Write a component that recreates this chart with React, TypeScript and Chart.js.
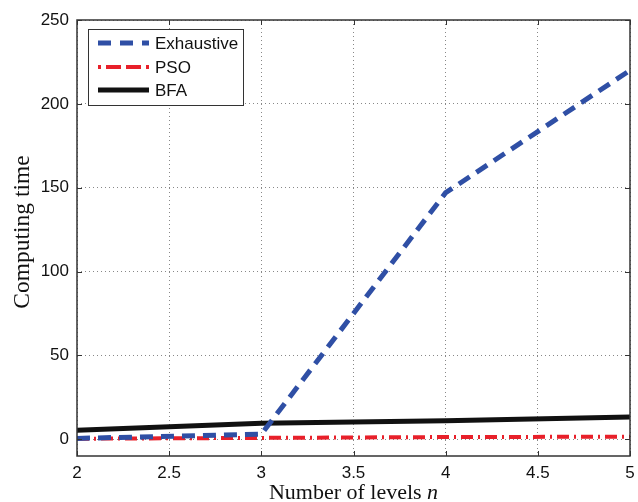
import React, { useEffect, useRef } from 'react';
import { Chart, registerables } from 'chart.js';

Chart.register(...registerables);

const N_LEVELS = [2, 3, 4, 5];
const EXHAUSTIVE = [0.5, 3, 147, 220];
const PSO = [0.3, 0.8, 1.3, 1.5];
const BFA = [5.4, 9.6, 11, 13.3];
const X_TICKS = [2, 2.5, 3, 3.5, 4, 4.5, 5];
const Y_TICKS = [0, 50, 100, 150, 200, 250];
const SERIES_LABELS = ['Exhaustive', 'PSO', 'BFA'];
const X_TITLE = 'Number of levels ';
const X_TITLE_VAR = 'n';
const Y_TITLE = 'Computing time';

const SANS = '"Liberation Sans", Arial, sans-serif';
const SERIF = '"Liberation Serif", "DejaVu Serif", serif';

const decorPlugin = {
  id: 'decor',
  afterDraw(chart: any) {
    const { ctx, chartArea } = chart;
    const { left, right, top, bottom } = chartArea;
    const xs = chart.scales.x;
    const ys = chart.scales.y;
    ctx.save();
    // frame
    ctx.strokeStyle = '#333';
    ctx.lineWidth = 1.5;
    ctx.setLineDash([]);
    ctx.strokeRect(left, top, right - left, bottom - top);
    // inward ticks
    ctx.lineWidth = 1;
    const tl = 5;
    X_TICKS.forEach((v) => {
      const px = Math.round(xs.getPixelForValue(v)) + 0.5;
      ctx.beginPath();
      ctx.moveTo(px, bottom);
      ctx.lineTo(px, bottom - tl);
      ctx.moveTo(px, top);
      ctx.lineTo(px, top + tl);
      ctx.stroke();
    });
    Y_TICKS.forEach((v) => {
      const py = Math.round(ys.getPixelForValue(v)) + 0.5;
      ctx.beginPath();
      ctx.moveTo(left, py);
      ctx.lineTo(left + tl, py);
      ctx.moveTo(right, py);
      ctx.lineTo(right - tl, py);
      ctx.stroke();
    });
    // legend
    const bx = 88, by = 29, bw = 155, bh = 76;
    ctx.fillStyle = '#fff';
    ctx.fillRect(bx, by, bw, bh);
    ctx.strokeStyle = '#333';
    ctx.lineWidth = 1;
    ctx.strokeRect(bx + 0.5, by + 0.5, bw, bh);
    const rows = [43, 67, 90];
    chart.data.datasets.forEach((ds: any, i: number) => {
      const y = rows[i];
      ctx.save();
      ctx.strokeStyle = ds.borderColor;
      ctx.lineWidth = ds.borderWidth;
      ctx.lineCap = 'butt';
      ctx.setLineDash(ds.legendDash || []);
      ctx.beginPath();
      ctx.moveTo(98, y);
      ctx.lineTo(149, y);
      ctx.stroke();
      ctx.restore();
      ctx.fillStyle = '#111';
      ctx.font = `17px ${SANS}`;
      ctx.textBaseline = 'middle';
      ctx.textAlign = 'left';
      ctx.fillText(ds.label, 155, y + 1);
    });
    // x title
    ctx.fillStyle = '#111';
    ctx.font = `22px ${SERIF}`;
    ctx.textBaseline = 'alphabetic';
    const w1 = ctx.measureText(X_TITLE).width;
    ctx.font = `italic 22px ${SERIF}`;
    const w2 = ctx.measureText(X_TITLE_VAR).width;
    const cx = (left + right) / 2;
    const sx = cx - (w1 + w2) / 2;
    ctx.font = `22px ${SERIF}`;
    ctx.textAlign = 'left';
    ctx.fillText(X_TITLE, sx, 499);
    ctx.font = `italic 22px ${SERIF}`;
    ctx.fillText(X_TITLE_VAR, sx + w1, 499);
    // y title
    ctx.save();
    ctx.translate(23, 232);
    ctx.rotate(-Math.PI / 2);
    ctx.font = `23.5px ${SERIF}`;
    ctx.textAlign = 'center';
    ctx.textBaseline = 'middle';
    ctx.fillText(Y_TITLE, 0, 0);
    ctx.restore();
    ctx.restore();
  },
};

export default function App() {
  const ref = useRef<HTMLCanvasElement>(null);
  useEffect(() => {
    document.body.style.margin = '0';
    const toPts = (arr: number[]) => N_LEVELS.map((x, i) => ({ x, y: arr[i] }));
    const chart = new Chart(ref.current as HTMLCanvasElement, {
      type: 'line',
      data: {
        datasets: [
          {
            label: SERIES_LABELS[0],
            data: toPts(EXHAUSTIVE),
            borderColor: '#2f4fa5',
            borderWidth: 5,
            borderDash: [13, 8],
            legendDash: [13, 9],
            pointRadius: 0,
            tension: 0,
            borderCapStyle: 'butt',
          } as any,
          {
            label: SERIES_LABELS[1],
            data: toPts(PSO),
            borderColor: '#e8202a',
            borderWidth: 4,
            borderDash: [12, 5, 2, 5],
            legendDash: [3, 5, 15, 5, 15, 5],
            pointRadius: 0,
            tension: 0,
            borderCapStyle: 'butt',
          } as any,
          {
            label: SERIES_LABELS[2],
            data: toPts(BFA),
            borderColor: '#111',
            borderWidth: 5,
            legendDash: [],
            pointRadius: 0,
            tension: 0,
          } as any,
        ],
      },
      options: {
        animation: false,
        responsive: false,
        layout: { padding: { top: 20, right: 8, left: 0, bottom: 0 } },
        plugins: { legend: { display: false }, tooltip: { enabled: false } },
        scales: {
          x: {
            type: 'linear',
            min: 2,
            max: 5,
            afterBuildTicks: (s: any) => {
              s.ticks = X_TICKS.map((v) => ({ value: v }));
            },
            afterFit: (s: any) => {
              s.height = 46;
              s.paddingLeft = 0;
              s.paddingRight = 0;
            },
            grid: { color: '#888', lineWidth: 1, drawTicks: false },
            border: { display: false, dash: [1, 3] },
            ticks: {
              padding: 7,
              color: '#111',
              font: { family: SANS, size: 17 },
              callback: (v: any) => String(v),
              maxRotation: 0,
            },
          },
          y: {
            type: 'linear',
            min: -10,
            max: 250,
            afterBuildTicks: (s: any) => {
              s.ticks = Y_TICKS.map((v) => ({ value: v }));
            },
            afterFit: (s: any) => {
              s.width = 77;
              s.paddingTop = 0;
              s.paddingBottom = 0;
            },
            grid: { color: '#888', lineWidth: 1, drawTicks: false },
            border: { display: false, dash: [1, 3] },
            ticks: {
              padding: 8,
              color: '#111',
              font: { family: SANS, size: 17 },
              callback: (v: any) => String(v),
            },
          },
        },
      },
      plugins: [decorPlugin],
    });
    return () => chart.destroy();
  }, []);
  return (
    <div style={{ width: 638, height: 502 }}>
      <canvas ref={ref} width={638} height={502} />
    </div>
  );
}
